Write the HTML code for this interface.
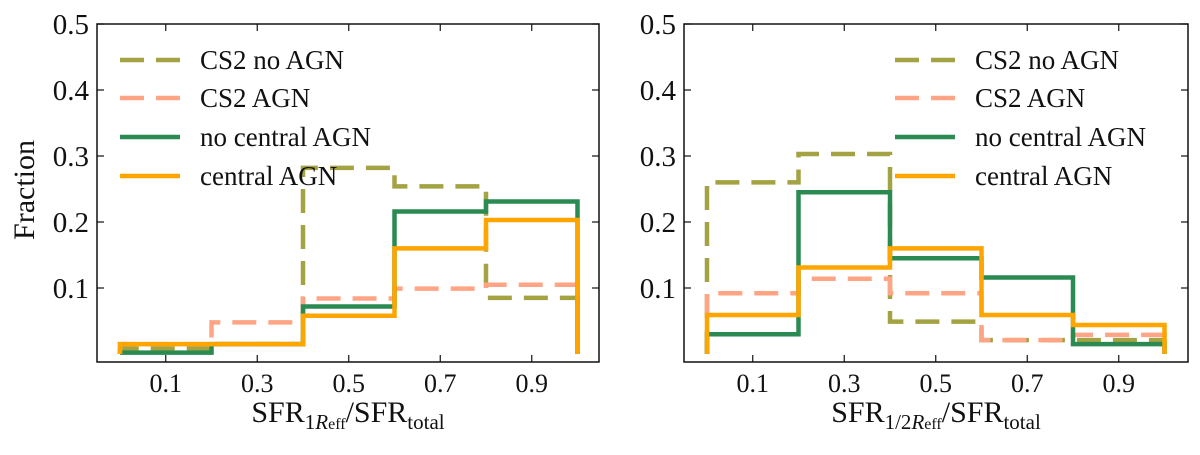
<!DOCTYPE html>
<html><head><meta charset="utf-8"><style>
body{margin:0;background:#fff;width:1200px;height:450px;overflow:hidden}
svg text{font-family:"Liberation Serif",serif;fill:#111}
</style></head><body>
<svg id="chart" width="1200" height="450"></svg>
<script>
const bins=[0,0.2,0.4,0.6,0.8,1.0];
const yTicks=[0.1,0.2,0.3,0.4,0.5];
const xTicks=[0.1,0.3,0.5,0.7,0.9];
const seriesNames=["CS2 no AGN","CS2 AGN","no central AGN","central AGN"];
const p1Cs2NoAgn=[0.008,0.015,0.282,0.254,0.085];
const p1Cs2Agn=[0.015,0.048,0.084,0.099,0.105];
const p1NoCentral=[0.002,0.015,0.072,0.216,0.231];
const p1Central=[0.015,0.015,0.058,0.16,0.203];
const p2Cs2NoAgn=[0.26,0.303,0.049,0.021,0.021];
const p2Cs2Agn=[0.092,0.114,0.092,0.021,0.029];
const p2NoCentral=[0.03,0.245,0.145,0.116,0.015];
const p2Central=[0.059,0.131,0.16,0.059,0.044];

const NS="http://www.w3.org/2000/svg";
const svg=document.getElementById('chart');
function mk(tag,attrs,parent){const e=document.createElementNS(NS,tag);for(const k in attrs)e.setAttribute(k,attrs[k]);(parent||svg).appendChild(e);return e;}
const styles=[
 {stroke:"#a3a343",dash:"24 12"},
 {stroke:"#ffa585",dash:"24 12"},
 {stroke:"#2a8a52",dash:""},
 {stroke:"#ffa500",dash:""}];

function panel(id,left,right,x0px,data,legX,xlabel){
 const top=24,bottom=362;
 const xs=v=>x0px+v*457.5;
 const ys=v=>354-v*660;
 const g=mk('g',{});
 
 
 data.forEach((vals,si)=>{
  let d="M"+xs(bins[0])+","+ys(0);
  vals.forEach((v,i)=>{d+=" L"+xs(bins[i])+","+ys(v)+" L"+xs(bins[i+1])+","+ys(v);});
  d+=" L"+xs(bins[bins.length-1])+","+ys(0);
  const p=mk('path',{d:d,fill:"none",stroke:styles[si].stroke,"stroke-width":4.5,"stroke-dasharray":styles[si].dash,"stroke-linejoin":"miter"},g);
  
  
 });
 const fr=mk('rect',{x:left,y:top,width:right-left,height:bottom-top,fill:"none",stroke:"#111","stroke-width":1.5},g);
 
 
 yTicks.forEach(t=>{
  const y=ys(t);
  mk('line',{x1:left,x2:left+7,y1:y,y2:y,stroke:"#111","stroke-width":1.2},g);
  mk('line',{x1:right,x2:right-7,y1:y,y2:y,stroke:"#111","stroke-width":1.2},g);
  const tx=mk('text',{x:left-8,y:y+10,"text-anchor":"end","font-size":29},g);
  tx.textContent=t.toFixed(1);
  
  
 });
 xTicks.forEach(t=>{
  const x=xs(t);
  mk('line',{x1:x,x2:x,y1:bottom,y2:bottom-7,stroke:"#111","stroke-width":1.2},g);
  mk('line',{x1:x,x2:x,y1:top,y2:top+7,stroke:"#111","stroke-width":1.2},g);
  const tx=mk('text',{x:x,y:bottom+30,"text-anchor":"middle","font-size":26},g);
  tx.textContent=t.toFixed(1);
  
  
 });
 const rows=[60,98,137,176];
 seriesNames.forEach((n,i)=>{
  const le=mk('g',{},g);
  
  
  mk('line',{x1:legX,x2:legX+60,y1:rows[i],y2:rows[i],stroke:styles[i].stroke,"stroke-width":4.5,"stroke-dasharray":styles[i].dash},le);
  const t=mk('text',{x:legX+80,y:rows[i]+9,"font-size":27},le);
  t.textContent=n;
 });
 const xl=mk('text',{x:(left+right)/2,y:bottom+60,"text-anchor":"middle","font-size":30},g);
 xl.innerHTML=xlabel;
 
 
}
panel('left-panel',97,599,120,[p1Cs2NoAgn,p1Cs2Agn,p1NoCentral,p1Central],120,
 'SFR<tspan font-size="21" dy="7">1<tspan font-style="italic">R</tspan><tspan font-size="16">eff</tspan></tspan><tspan dy="-7">/SFR</tspan><tspan font-size="21" dy="7">total</tspan>');
panel('right-panel',684,1188,707,[p2Cs2NoAgn,p2Cs2Agn,p2NoCentral,p2Central],895,
 'SFR<tspan font-size="21" dy="7">1/2<tspan font-style="italic">R</tspan><tspan font-size="16">eff</tspan></tspan><tspan dy="-7">/SFR</tspan><tspan font-size="21" dy="7">total</tspan>');
const yl=mk('text',{x:0,y:0,"text-anchor":"middle","font-size":30,transform:"translate(34,190) rotate(-90)"});
yl.textContent="Fraction";


</script>
</body></html>
